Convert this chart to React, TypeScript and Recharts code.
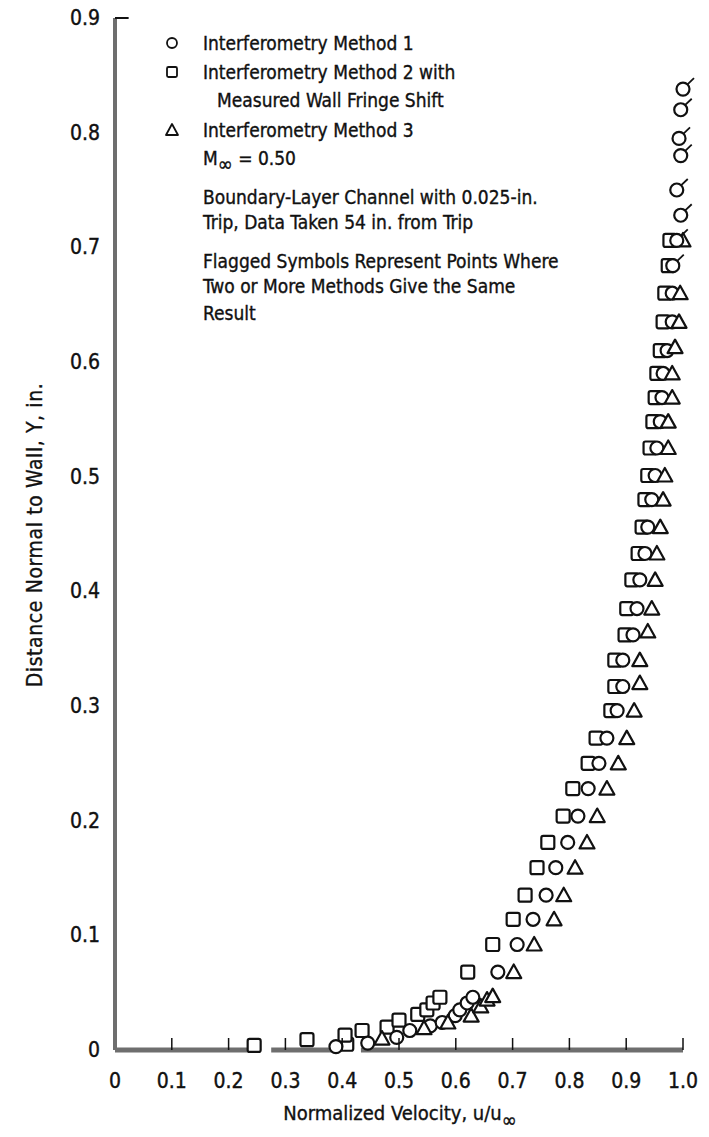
import { ScatterChart, Scatter, XAxis, YAxis, ReferenceLine } from 'recharts';

// u/u_inf, Y (in.)
const xTicks = [0, 0.1, 0.2, 0.3, 0.4, 0.5, 0.6, 0.7, 0.8, 0.9, 1.0];
const yTicks = [0, 0.1, 0.2, 0.3, 0.4, 0.5, 0.6, 0.7, 0.8, 0.9];

// Interferometry Method 1 (circles)
const method1: [number, number][] = [
  [0.389, 0.003], [0.445, 0.006], [0.496, 0.011], [0.519, 0.017], [0.555, 0.021],
  [0.576, 0.024], [0.599, 0.030], [0.607, 0.035], [0.620, 0.041], [0.630, 0.046],
  [0.674, 0.068], [0.708, 0.092], [0.736, 0.114], [0.759, 0.135], [0.776, 0.159],
  [0.797, 0.181], [0.815, 0.204], [0.833, 0.228], [0.852, 0.250], [0.866, 0.272],
  [0.884, 0.296], [0.894, 0.317], [0.894, 0.340], [0.912, 0.362], [0.919, 0.385],
  [0.924, 0.410], [0.933, 0.433], [0.938, 0.456], [0.945, 0.480], [0.951, 0.501],
  [0.954, 0.525], [0.960, 0.548], [0.963, 0.569], [0.965, 0.590], [0.972, 0.610],
  [0.981, 0.635], [0.981, 0.660],
];

// flagged: two or more methods agree
const flagged: [number, number][] = [
  [0.982, 0.684], [0.989, 0.706], [0.996, 0.728], [0.989, 0.750],
  [0.996, 0.780], [0.993, 0.795], [0.996, 0.820], [1.0, 0.838],
];

// Interferometry Method 2 (squares)
const method2: [number, number][] = [
  [0.245, 0.004], [0.338, 0.009], [0.408, 0.005], [0.405, 0.013], [0.435, 0.017],
  [0.479, 0.020], [0.500, 0.026], [0.533, 0.031], [0.549, 0.035], [0.560, 0.041],
  [0.572, 0.046],
  [0.621, 0.068], [0.665, 0.092], [0.701, 0.114], [0.722, 0.135], [0.743, 0.159],
  [0.762, 0.181], [0.789, 0.204], [0.806, 0.228], [0.833, 0.250], [0.847, 0.272],
  [0.873, 0.296], [0.880, 0.317], [0.880, 0.340], [0.898, 0.362], [0.901, 0.385],
  [0.910, 0.410], [0.921, 0.433], [0.928, 0.456], [0.933, 0.480], [0.938, 0.501],
  [0.942, 0.525], [0.947, 0.548], [0.951, 0.569], [0.954, 0.590], [0.960, 0.610],
  [0.965, 0.635], [0.968, 0.660], [0.974, 0.684], [0.977, 0.706],
];

// Interferometry Method 3 (triangles)
const method3: [number, number][] = [
  [0.470, 0.010], [0.544, 0.019], [0.586, 0.024], [0.627, 0.030], [0.644, 0.038],
  [0.655, 0.044], [0.665, 0.047],
  [0.702, 0.068], [0.738, 0.092], [0.773, 0.114], [0.790, 0.135], [0.810, 0.159],
  [0.831, 0.181], [0.849, 0.204], [0.866, 0.228], [0.886, 0.250], [0.901, 0.272],
  [0.914, 0.296], [0.924, 0.320], [0.924, 0.340], [0.938, 0.365], [0.945, 0.385],
  [0.951, 0.410], [0.954, 0.433], [0.960, 0.456], [0.965, 0.480], [0.968, 0.501],
  [0.974, 0.525], [0.974, 0.548], [0.981, 0.569], [0.981, 0.590], [0.986, 0.613],
  [0.993, 0.635], [0.995, 0.660], [1.0, 0.706],
];

// axis baseline pieces (broken where points sit on it)
const baseSegments: [number, number][] = [[0, 0.235], [0.275, 0.383], [0.433, 1.0]];

const toPts = (arr: [number, number][]) => arr.map(([u, y]) => ({ u, y }));

const INK = '#111';
const AXIS = '#6e6e6e';
const FONT = "'DejaVu Sans Condensed', 'Liberation Sans Narrow', sans-serif";

function CircleMark({ cx, cy }: any) {
  return <circle cx={cx} cy={cy} r={6.5} fill="#fff" stroke={INK} strokeWidth={2.2} />;
}

function FlagMark({ cx, cy }: any) {
  return (
    <g>
      <circle cx={cx} cy={cy} r={6.5} fill="#fff" stroke={INK} strokeWidth={2.2} />
      <line x1={cx + 4.5} y1={cy - 4.8} x2={cx + 11} y2={cy - 11} stroke={INK} strokeWidth={1.8} />
    </g>
  );
}

function SquareMark({ cx, cy }: any) {
  return <rect x={cx - 6.5} y={cy - 6.5} width={13} height={13} rx={2} fill="#fff" stroke={INK} strokeWidth={2.2} />;
}

function TriangleMark({ cx, cy }: any) {
  return (
    <path
      d={`M${cx},${cy - 7.5} L${cx + 7.5},${cy + 6} L${cx - 7.5},${cy + 6} Z`}
      fill="#fff"
      stroke={INK}
      strokeWidth={2.2}
      strokeLinejoin="round"
    />
  );
}

function XTick({ x, y, payload }: any) {
  const v = payload.value;
  return (
    <g>
      {v > 0 && <line x1={x} x2={x} y1={y - 12} y2={y} stroke={INK} strokeWidth={1.5} />}
      <text x={x} y={y + 38} textAnchor="middle" fontSize={21} fontFamily={FONT} fill={INK} stroke={INK} strokeWidth={0.4}>
        {v === 0 ? '0' : v.toFixed(1)}
      </text>
    </g>
  );
}

function YTick({ x, y, payload }: any) {
  const v = payload.value;
  return (
    <text x={x} y={y + 7} textAnchor="end" fontSize={21} fontFamily={FONT} fill={INK} stroke={INK} strokeWidth={0.4}>
      {v === 0 ? '0' : v.toFixed(1)}
    </text>
  );
}

const legendLines = [
  { y: 43, x: 203, text: 'Interferometry Method 1' },
  { y: 72, x: 203, text: 'Interferometry Method 2 with' },
  { y: 100, x: 217, text: 'Measured Wall Fringe Shift' },
  { y: 130, x: 203, text: 'Interferometry Method 3' },
  { y: 197, x: 203, text: 'Boundary-Layer Channel with 0.025-in.' },
  { y: 222, x: 203, text: 'Trip, Data Taken 54 in. from Trip' },
  { y: 261, x: 203, text: 'Flagged Symbols Represent Points Where' },
  { y: 286, x: 203, text: 'Two or More Methods Give the Same' },
  { y: 313, x: 203, text: 'Result' },
];

export default function App() {
  return (
    <div style={{ position: 'absolute', left: 0, top: 0, width: 709, height: 1137, background: '#fff' }}>
      <ScatterChart width={709} height={1137} margin={{ top: 18, right: 26, bottom: 27, left: 40 }}>
        <XAxis
          type="number"
          dataKey="u"
          domain={[0, 1]}
          ticks={xTicks}
          tick={<XTick />}
          tickSize={0}
          tickMargin={0}
          axisLine={false}
          tickLine={false}
          height={60}
          interval={0}
        />
        <YAxis
          type="number"
          dataKey="y"
          domain={[0, 0.9]}
          ticks={yTicks}
          tick={<YTick />}
          tickSize={0}
          tickMargin={15}
          axisLine={false}
          tickLine={false}
          width={75}
          interval={0}
        />
        <ReferenceLine segment={[{ x: 0, y: 0 }, { x: 0, y: 0.9 }]} stroke={AXIS} strokeWidth={4} ifOverflow="visible" />
        <ReferenceLine segment={[{ x: 0, y: 0.9 }, { x: 0.024, y: 0.9 }]} stroke={INK} strokeWidth={2} ifOverflow="visible" />
        {baseSegments.map(([a, b]) => (
          <ReferenceLine key={a} segment={[{ x: a, y: 0 }, { x: b, y: 0 }]} stroke={AXIS} strokeWidth={5} ifOverflow="visible" />
        ))}
        <Scatter data={toPts(method2)} shape={<SquareMark />} isAnimationActive={false} />
        <Scatter data={toPts(method1)} shape={<CircleMark />} isAnimationActive={false} />
        <Scatter data={toPts(method3)} shape={<TriangleMark />} isAnimationActive={false} />
        <Scatter data={toPts(flagged)} shape={<FlagMark />} isAnimationActive={false} />
      </ScatterChart>
      <svg
        width={709}
        height={1137}
        style={{ position: 'absolute', left: 0, top: 0, pointerEvents: 'none' }}
        fontFamily={FONT}
        fill={INK}
        stroke={INK}
        strokeWidth={0.35}
      >
        <circle cx={172} cy={43} r={5} fill="none" strokeWidth={1.8} />
        <rect x={167} y={67} width={10} height={10} rx={1.5} fill="none" strokeWidth={1.8} />
        <path d="M172,124 L178,135 L166,135 Z" fill="none" strokeWidth={1.8} strokeLinejoin="round" />
        {legendLines.map((l) => (
          <text key={l.text} x={l.x} y={l.y + 7} fontSize={19}>
            {l.text}
          </text>
        ))}
        <text x={203} y={165} fontSize={19}>
          M<tspan fontSize={20} dy={6}>∞</tspan>
          <tspan dy={-6}>{'  =  0.50'}</tspan>
        </text>
        <text x={400} y={1120} fontSize={20} textAnchor="middle">
          Normalized Velocity,  u/u<tspan fontSize={20} dy={7}>∞</tspan>
        </text>
        <text x={0} y={0} fontSize={21} letterSpacing={0.6} textAnchor="middle" transform="translate(42,535) rotate(-90)">
          Distance Normal to Wall,  Y,  in.
        </text>
      </svg>
    </div>
  );
}
